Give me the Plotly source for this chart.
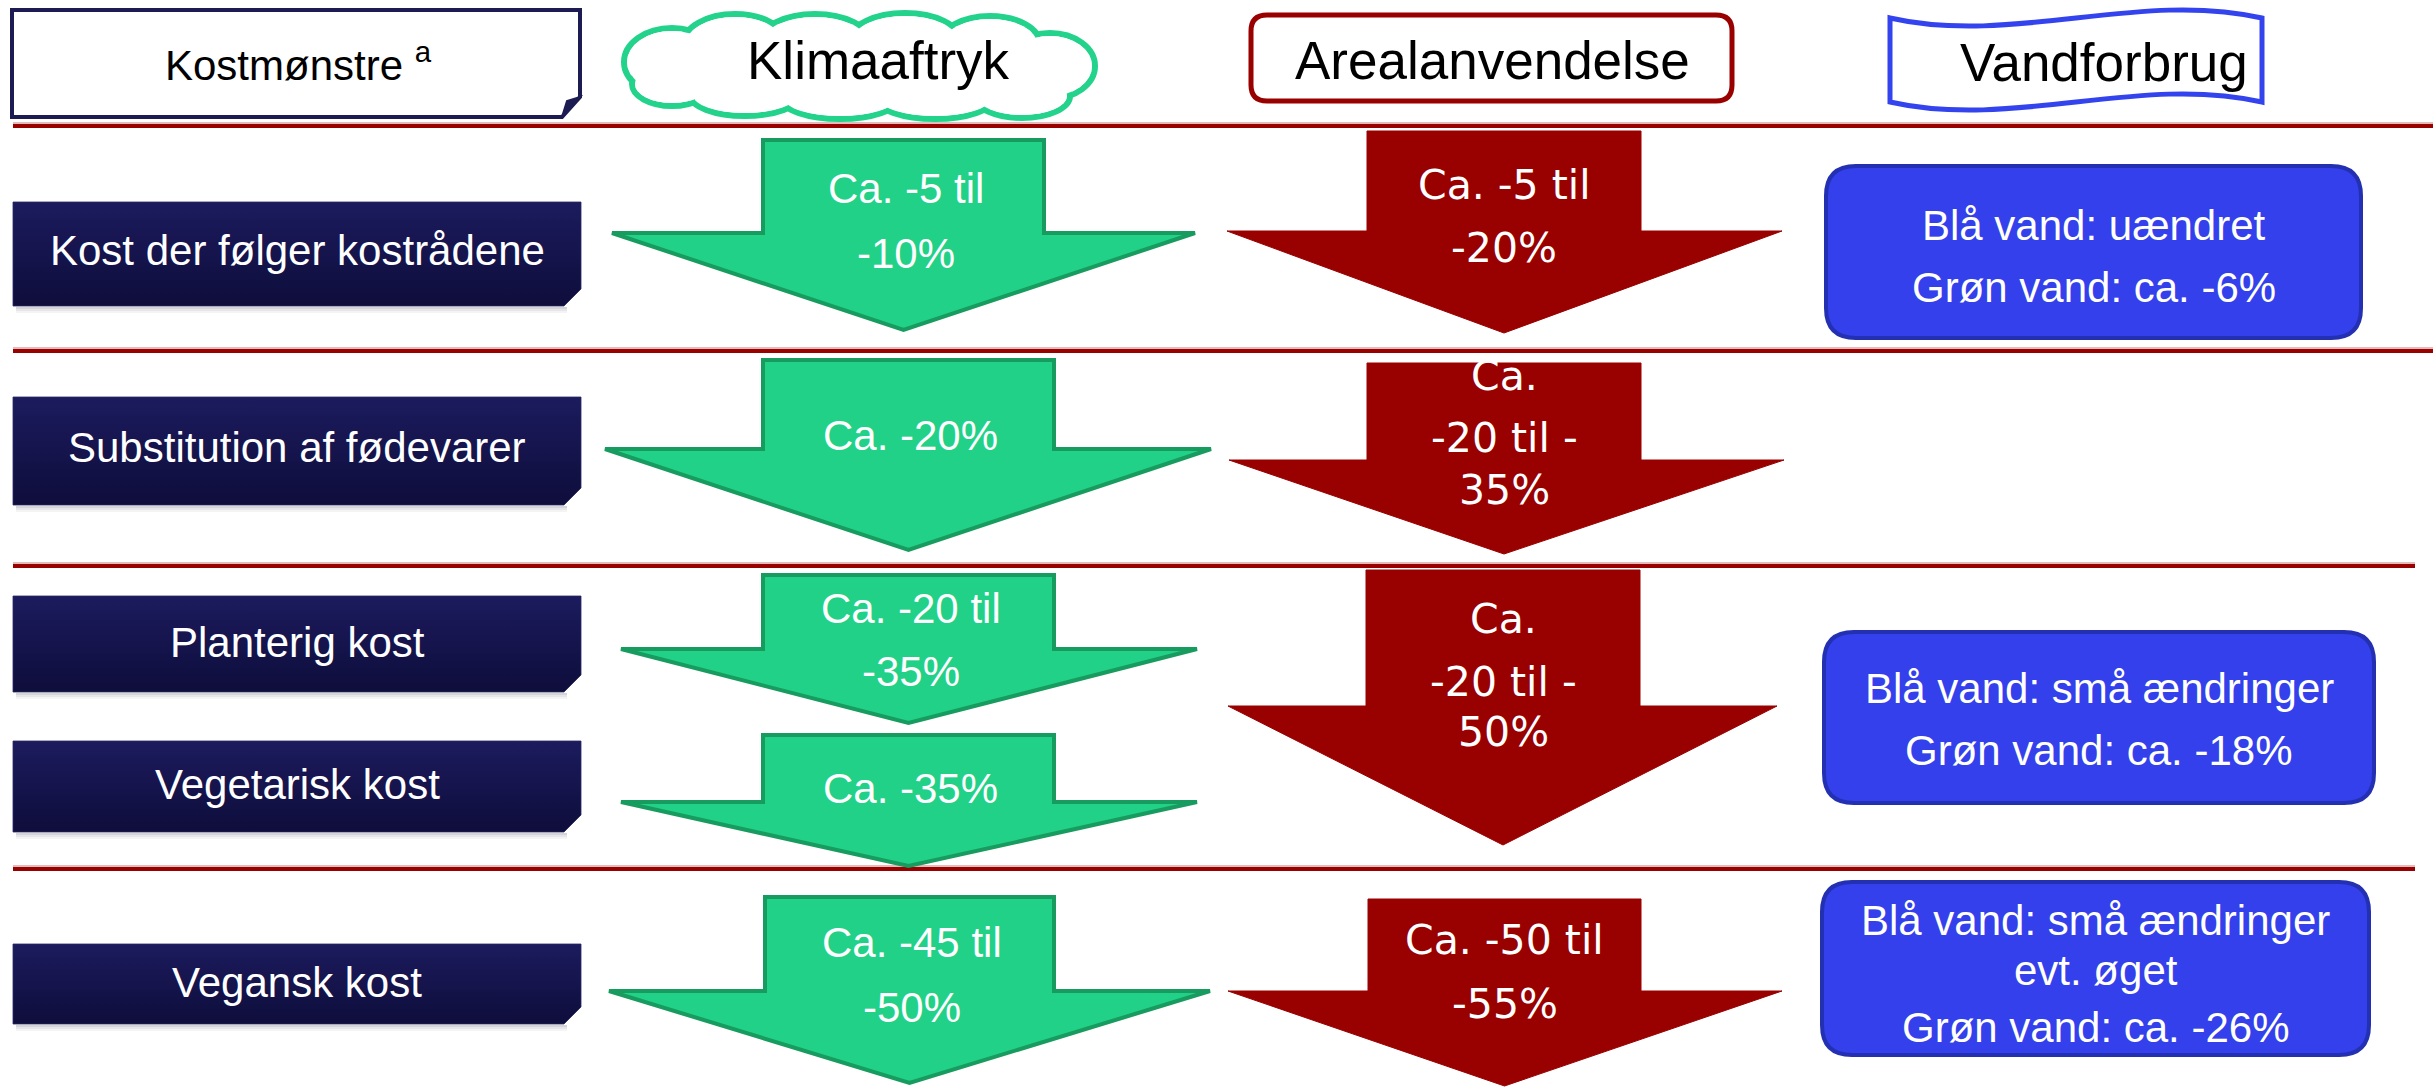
import plotly.graph_objects as go

W, H = 2433, 1088

# ---------------- text content ----------------
header_titles = ["Kostmønstre <sup>a</sup>", "Klimaaftryk", "Arealanvendelse", "Vandforbrug"]
diet_patterns = [
    "Kost der følger kostrådene",
    "Substitution af fødevarer",
    "Planterig kost",
    "Vegetarisk kost",
    "Vegansk kost",
]
climate_effects = [
    ["Ca. -5 til", "-10%"],
    ["Ca. -20%"],
    ["Ca. -20 til", "-35%"],
    ["Ca. -35%"],
    ["Ca. -45 til", "-50%"],
]
land_effects = [
    ["Ca. -5 til", "-20%"],
    ["Ca.", "-20 til -", "35%"],
    ["Ca.", "-20 til -", "50%"],
    ["Ca. -50 til", "-55%"],
]
water_effects = [
    ["Blå vand: uændret", "Grøn vand: ca. -6%"],
    ["Blå vand: små ændringer", "Grøn vand: ca. -18%"],
    ["Blå vand: små ændringer", "evt. øget", "Grøn vand: ca. -26%"],
]

# ---------------- layout geometry (page pixels) ----------------
separator_y = [126, 351, 566, 869]
separator_x_end = [2433, 2433, 2415, 2415]

diet_box_x = (13, 581)
diet_box_y = [(202, 306), (397, 505), (596, 692), (741, 832), (944, 1024)]
diet_text_y = [250, 447, 642, 784, 982]

# (left wing, shaft left, shaft right, right wing, top, shoulder, tip)
climate_arrows = [
    (612, 763, 1044, 1195, 140, 233, 330),
    (605, 763, 1054, 1211, 360, 449, 550),
    (621, 763, 1054, 1197, 575, 649, 723),
    (621, 763, 1054, 1197, 735, 802, 866),
    (609, 765, 1054, 1210, 897, 991, 1083),
]
climate_text_y = [[188, 253], [435], [608, 671], [788], [942, 1007]]

land_arrows = [
    (1227, 1367, 1641, 1782, 131, 231, 333),
    (1229, 1367, 1641, 1784, 363, 460, 554),
    (1228, 1366, 1640, 1777, 570, 706, 845),
    (1228, 1368, 1641, 1782, 899, 991, 1086),
]
land_text_y = [[185, 248], [376, 438, 490], [619, 682, 732], [940, 1004]]

water_boxes = [(1826, 2361, 166, 338), (1824, 2374, 632, 803), (1822, 2369, 882, 1055)]
water_text_y = [[225, 287], [688, 750], [920, 970, 1027]]

header_pos = [(298, 62), (878, 60), (1492, 60), (2104, 62)]
header_size = [42, 53, 53, 53]

# cloud bumps (cx, cy, rx, ry)
cloud_bumps = [
    (672, 62, 48, 34), (735, 44, 52, 30), (815, 42, 55, 28), (905, 40, 55, 27),
    (990, 44, 50, 28), (1050, 66, 45, 33), (1022, 96, 48, 22), (935, 99, 58, 20),
    (840, 99, 58, 20), (745, 95, 55, 21), (672, 84, 40, 22),
]
cloud_core = (860, 66, 190, 35)

# ---------------- styles ----------------
SANS = "Liberation Sans, Arial, sans-serif"
DEJAVU = "DejaVu Sans, Verdana, sans-serif"
GREEN_FILL, GREEN_LINE = "#21d187", "#179b5f"
RED = "#990000"
BLUE_FILL, BLUE_LINE = "#3340eb", "#2330b2"
NAVY = "#1d1c52"
CLOUD_GREEN = "#24d38b"
FLAG_BLUE = "#3344ee"


def rounded_rect(x0, y0, x1, y1, r):
    return (f"M{x0+r},{y0} L{x1-r},{y0} Q{x1},{y0} {x1},{y0+r} L{x1},{y1-r} "
            f"Q{x1},{y1} {x1-r},{y1} L{x0+r},{y1} Q{x0},{y1} {x0},{y1-r} "
            f"L{x0},{y0+r} Q{x0},{y0} {x0+r},{y0} Z")


def arrow_path(a):
    wl, sl, sr, wr, yt, ys, ytip = a
    cx = (sl + sr) / 2
    return (f"M{wl},{ys} L{sl},{ys} L{sl},{yt} L{sr},{yt} L{sr},{ys} "
            f"L{wr},{ys} L{cx},{ytip} Z")


fig = go.Figure()
shapes = []
annotations = []


def label(x, y, text, size, color="white", family=SANS):
    annotations.append(dict(
        x=x, y=y, xref="x", yref="y", text=text, showarrow=False,
        xanchor="center", yanchor="middle",
        font=dict(family=family, size=size, color=color),
    ))


# separators
for y, xe in zip(separator_y, separator_x_end):
    shapes.append(dict(type="line", x0=13, x1=xe, y0=y - 3, y1=y - 3,
                       line=dict(color="#dba5a5", width=1.5)))
    shapes.append(dict(type="line", x0=13, x1=xe, y0=y, y1=y,
                       line=dict(color=RED, width=4)))

# header: note-style box with folded corner
hx0, hx1, hy0, hy1 = 12, 580, 10, 117
shapes.append(dict(type="path",
                   path=f"M{hx0},{hy0} L{hx1},{hy0} L{hx1},{hy1-20} L{hx1-18},{hy1} L{hx0},{hy1} Z",
                   fillcolor="white", line=dict(color=NAVY, width=4)))
shapes.append(dict(type="path",
                   path=f"M{hx1},{hy1-20} L{hx1-18},{hy1} L{hx1-13},{hy1-16} Z",
                   fillcolor=NAVY, line=dict(color=NAVY, width=2)))

# header: cloud
for cx, cy, rx, ry in cloud_bumps:
    shapes.append(dict(type="circle", x0=cx - rx, x1=cx + rx, y0=cy - ry, y1=cy + ry,
                       fillcolor="white", line=dict(color=CLOUD_GREEN, width=6)))
for cx, cy, rx, ry in cloud_bumps + [cloud_core]:
    shapes.append(dict(type="circle", x0=cx - rx + 3, x1=cx + rx - 3,
                       y0=cy - ry + 3, y1=cy + ry - 3,
                       fillcolor="white", line=dict(width=0)))

# header: rounded rectangle
shapes.append(dict(type="path", path=rounded_rect(1251, 15, 1732, 101, 16),
                   fillcolor="white", line=dict(color=RED, width=5)))

# header: wave banner
fx0, fx1, fyt, fyb, amp = 1890, 2262, 18, 102, 28
fw = fx1 - fx0
flag = (f"M{fx0},{fyt} C{fx0 + fw/3},{fyt + amp} {fx0 + 2*fw/3},{fyt - amp} {fx1},{fyt} "
        f"L{fx1},{fyb} C{fx0 + 2*fw/3},{fyb - amp} {fx0 + fw/3},{fyb + amp} {fx0},{fyb} Z")
shapes.append(dict(type="path", path=flag, fillcolor="white",
                   line=dict(color=FLAG_BLUE, width=5)))

for (x, y), t, s in zip(header_pos, header_titles, header_size):
    label(x, y, t, s, color="black")

# diet pattern boxes
bx0, bx1 = diet_box_x
for (y0, y1), name, ty in zip(diet_box_y, diet_patterns, diet_text_y):
    for k, alpha in enumerate([0.22, 0.13, 0.06]):
        shapes.append(dict(type="rect", x0=bx0 + 3, x1=bx1 - 14,
                           y0=y1 + 1 + 2 * k, y1=y1 + 3 + 2 * k,
                           fillcolor=f"rgba(60,60,80,{alpha})", line=dict(width=0),
                           layer="below"))
    cut = 17
    fig.add_trace(go.Scatter(
        x=[bx0, bx1, bx1, bx1 - cut, bx0, bx0],
        y=[y0, y0, y1 - cut, y1, y1, y0],
        mode="lines", fill="toself", line=dict(width=0.8, color="#2a2a66"),
        fillgradient=dict(type="vertical", start=y0, stop=y1,
                          colorscale=[[0, "#1c1b5e"], [1, "#0e0d3b"]]),
        hoverinfo="skip", showlegend=False,
    ))
    label((bx0 + bx1) / 2, ty, name, 42)

# climate arrows
for a, lines, ys in zip(climate_arrows, climate_effects, climate_text_y):
    shapes.append(dict(type="path", path=arrow_path(a), fillcolor=GREEN_FILL,
                       line=dict(color=GREEN_LINE, width=4)))
    cx = (a[1] + a[2]) / 2
    for t, y in zip(lines, ys):
        label(cx + 2, y, t, 42)

# land-use arrows
for a, lines, ys in zip(land_arrows, land_effects, land_text_y):
    shapes.append(dict(type="path", path=arrow_path(a), fillcolor=RED,
                       line=dict(color=RED, width=1)))
    cx = (a[1] + a[2]) / 2
    for t, y in zip(lines, ys):
        label(cx, y, t, 41, family=DEJAVU)

# water boxes
for (x0, x1, y0, y1), lines, ys in zip(water_boxes, water_effects, water_text_y):
    shapes.append(dict(type="path", path=rounded_rect(x0, y0, x1, y1, 30),
                       fillcolor=BLUE_FILL, line=dict(color=BLUE_LINE, width=4)))
    for t, y in zip(lines, ys):
        label((x0 + x1) / 2, y, t, 42)

fig.update_layout(
    width=W, height=H,
    margin=dict(l=0, r=0, t=0, b=0),
    paper_bgcolor="white", plot_bgcolor="white",
    xaxis=dict(range=[0, W], visible=False, fixedrange=True),
    yaxis=dict(range=[H, 0], visible=False, fixedrange=True),
    shapes=shapes, annotations=annotations,
    showlegend=False,
)

fig.write_html("out.html", config={"displayModeBar": False})
